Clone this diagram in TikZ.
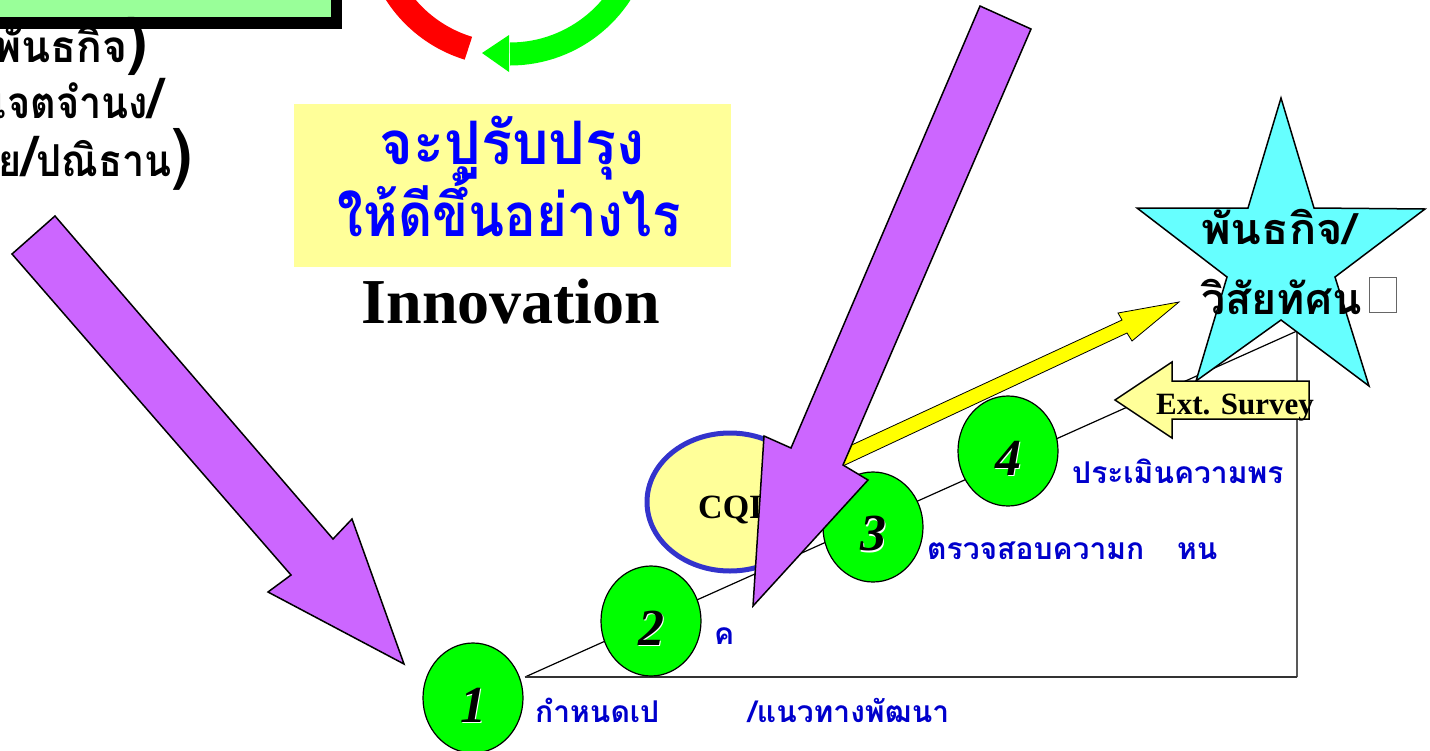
\documentclass[tikz,border=0pt]{standalone}
\usepackage{fontspec}
\setmainfont{Liberation Serif}
\newfontfamily\thaifont[Script=Thai]{Loma}
\newcommand{\fsz}[1]{\fontsize{#1}{#1}\selectfont}
\definecolor{paleyel}{HTML}{FFFF99}
\definecolor{pureyel}{HTML}{FFFF00}
\definecolor{palegrn}{HTML}{99FF99}
\definecolor{violetfill}{HTML}{CC66FF}
\definecolor{skyfill}{HTML}{66FFFF}
\definecolor{lblblue}{HTML}{0000CC}
\definecolor{ringblue}{HTML}{3333CC}
\tikzset{
  shapeline/.style={draw=black,line width=1.5pt,line join=miter},
  bigarrow/.style={shapeline,fill=violetfill},
  stepdisc/.style={ellipse,draw=black,line width=1.2pt,fill=green,minimum width=100pt,minimum height=110pt,inner sep=0pt},
  stepnum/.style={font=\fsz{52}\bfseries\itshape,inner sep=0pt,anchor=center},
  steplabel/.style={font=\thaifont\bfseries\fsz{30},text=lblblue,inner sep=0pt,anchor=base west},
  leftline/.style={font=\thaifont\bfseries\fsz{44},text=black,inner sep=0pt,anchor=base east,transform shape},
  titleline/.style={font=\thaifont\bfseries\fsz{60},text=blue,inner sep=0pt,anchor=base,transform shape},
  starline/.style={font=\thaifont\bfseries\fsz{43},text=black,inner sep=0pt,anchor=base west,transform shape}
}
\usetikzlibrary{shapes.geometric}
\begin{document}
\begin{tikzpicture}[x=1pt,y=-1pt]
\useasboundingbox (0,0) rectangle (1430,750);
\clip (0,0) rectangle (1430,750);
% top-left box
\fill[black] (-20,-20) rectangle (342,29);
\fill[palegrn] (-20,-20) rectangle (331,17);
% left text
\node[leftline,xscale=.97] (l1) at (148,62) {พันธกิจ\fsz{62})};
\node[leftline,xscale=.90] (l2) at (163,118) {เจตจำนง\fsz{56}/};
\node[leftline,xscale=.90] (l3) at (192,176) {ย\fsz{56}/\fsz{44}ปณิธาน\fsz{66})};
% cycle arcs
\draw[red,line width=24pt] (507,-78) ++(107:132) arc (107:170:132);
\draw[green,line width=23pt] (510,-78) ++(90:132) arc (90:10:132);
\fill[green] (482,53) -- (509,35) -- (509,72) -- cycle;
% title
\fill[paleyel] (294,104) rectangle (731,267);
\node[titleline,xscale=.96] (t1) at (512,164) {จะปูรับปรุง};
\node[titleline,xscale=.88] (t2) at (509,236) {ให้ดีขึ้นอย่างไร};
\node[font=\fsz{64}\bfseries,inner sep=0pt,anchor=base] (inn) at (511,323) {Innovation};
% triangle
\coordinate (ta) at (525,677);
\coordinate (tb) at (1297,677);
\coordinate (tc) at (1297,331);
\draw[black,line width=1.2pt] (ta) -- (tc) -- (tb);
\draw[black!80,line width=1.5pt] (ta) -- (tb);
% CQI
\node[ellipse,draw=ringblue,line width=5pt,fill=paleyel,minimum width=166pt,minimum height=138pt,inner sep=0pt] (cqi) at (730,502) {};
\node[font=\fsz{34}\bfseries,inner sep=0pt,anchor=base west] (cqit) at (698,518) {CQI};
% yellow arrow
\draw[draw=black,line width=.8pt,fill=pureyel] (830,455) -- (1122,320) -- (1118,313) -- (1179,302) -- (1132,341) -- (1127,333) -- (830,472) -- cycle;
% discs
\node[stepdisc] (d1) at (473,698) {};
\node[stepdisc] (d2) at (651,621) {};
\node[stepdisc] (d3) at (873,527) {};
\node[stepdisc] (d4) at (1008,451) {};
\foreach \nm/\n in {d1/1,d2/2,d3/3,d4/4}{
  \node[stepnum,text=white] (\nm s) at ([shift={(1.5,8.5)}]\nm) {\n};
  \node[stepnum] (\nm n) at ([shift={(0,7)}]\nm) {\n};
}
% step labels
\node[steplabel] (s1a) at (535,722) {กำหนดเป};
\node[steplabel] (s1b) at (748,722) {/แนวทางพัฒนา};
\node[steplabel] (s2) at (714,644) {ค};
\node[steplabel] (s3a) at (927,559) {ตรวจสอบความก};
\node[steplabel] (s3b) at (1177,559) {หน};
\node[steplabel] (s4) at (1072,483) {ประเมินความพร};
% star
\draw[shapeline,fill=skyfill] (1281,98) -- (1314,208) -- (1425,209) -- (1335,277) -- (1369,386) -- (1281,320) -- (1196,381) -- (1227,277) -- (1137,208) -- (1248,208) -- cycle;
\node[starline,xscale=1.05] (st1) at (1201,244) {พันธกิจ/};
\node[starline] (st2) at (1201,314) {วิสัยทัศน};
\node[draw=black!60,line width=1pt,fill=white,minimum width=27pt,minimum height=35pt,inner sep=0pt] (stb) at (1383,295) {};
% ext survey
\draw[shapeline,fill=paleyel] (1115,400) -- (1172,362) -- (1172,381) -- (1309,381) -- (1309,419) -- (1172,419) -- (1172,438) -- cycle;
\node[font=\fsz{31}\bfseries,inner sep=0pt,anchor=base west] (ext) at (1156,414) {Ext. Survey};
% purple arrows
\draw[bigarrow] (55,216) -- (12,254) -- (291,575) -- (268,592) -- (404,664) -- (352,519) -- (333,539) -- cycle;
\draw[bigarrow] (980,6) -- (1031,29) -- (843,465) -- (868,480) -- (753,606) -- (764,436) -- (791,448) -- cycle;
\end{tikzpicture}
\end{document}
